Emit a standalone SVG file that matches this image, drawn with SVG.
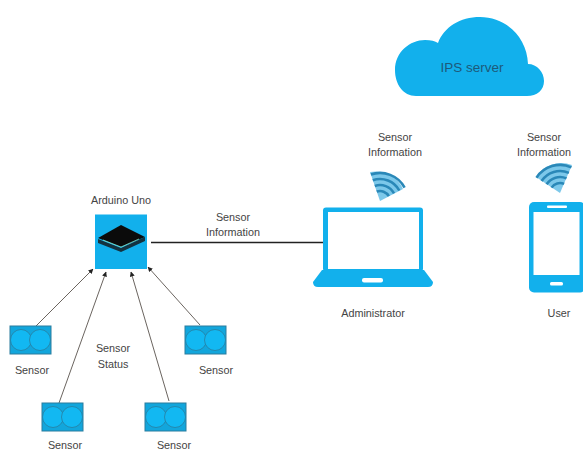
<svg xmlns="http://www.w3.org/2000/svg" width="583" height="450" viewBox="0 0 583 450">
<style>
text{font-family:"Liberation Sans",Arial,sans-serif;font-size:10.800px;fill:#444;text-anchor:middle}
.b{fill:#12b0ec}
.w{fill:#fff}
.c{fill:none;stroke:#6b6560;stroke-width:1}
.box{fill:#12a6dc;stroke:#2a7d9e;stroke-width:1}
.ci{fill:#12b8f2;stroke:#2a7d9e;stroke-width:.8}
.arc{fill:none;stroke:#2a88b8;stroke-width:2.600}
.fan{fill:#7cc8ea}
</style>
<defs>
<marker id="ah" markerWidth="5" markerHeight="5" refX="4.500" refY="2.500" orient="auto" markerUnits="userSpaceOnUse"><path d="M0 0L5 2.500L0 5z" fill="#222"/></marker>
<g id="sen"><rect class="box" x="0" y="0" width="41" height="28"/><circle class="ci" cx="11" cy="14" r="10.500"/><circle class="ci" cx="30" cy="14" r="10.500"/></g>
</defs>
<g id="connectors">
<path class="c" d="M36 326L93 269" marker-end="url(#ah)"/>
<path class="c" d="M59 403L106 272" marker-end="url(#ah)"/>
<path class="c" d="M169 401L131 272" marker-end="url(#ah)"/>
<path class="c" d="M200 325L148 267" marker-end="url(#ah)"/>
<path d="M151 242.500H323" fill="none" stroke="#222" stroke-width="1.300"/>
</g>
<g id="cloud"><path class="b" d="M416 96C403 96 395 84 395 70C395 52 410 40 425 40C431 40 435 41 438 43C444 27 460 17 480 17C505 17 527 36 528 64C537 64 544 72 544 81C544 90 537 96 527 96Z"/><text x="472" y="72" style="font-size:13.500px;fill:#1d5a7a">IPS server</text></g>
<g id="arduino"><rect class="b" x="95" y="214.500" width="52" height="54.500"/><path d="M98 239V243L121 252L145 241V237L121 248Z" fill="#14323f"/><path d="M121 225L145 237L121 247L98 238Z" fill="#0b0b0b"/><path d="M103 240L121 247L139 239" fill="none" stroke="#9fd" stroke-width=".7"/><text x="121" y="204">Arduino Uno</text></g>
<g id="sensor1"><use href="#sen" x="10" y="326"/><text x="32" y="374">Sensor</text></g>
<g id="sensor2"><use href="#sen" x="42" y="403"/><text x="65" y="449">Sensor</text></g>
<g id="sensor3"><use href="#sen" x="145" y="403"/><text x="174" y="449">Sensor</text></g>
<g id="sensor4"><use href="#sen" x="185" y="326"/><text x="216" y="374">Sensor</text></g>
<text x="113" y="352">Sensor</text><text x="113" y="368">Status</text>
<text x="233" y="221">Sensor</text><text x="233" y="236">Information</text>
<g id="laptop"><rect class="b" x="323" y="207.500" width="100" height="64" rx="3"/><rect class="w" x="328" y="212" width="91" height="57"/><path class="b" d="M322 270H424L433 282Q433 287 428 287H318Q313 287 313 282Z"/><rect class="w" x="362" y="278" width="21" height="4.500" rx="2"/><text x="373" y="317">Administrator</text></g>
<g id="wifi1"><path class="fan" d="M380 201L370 172A30 30 0 0 1 403 189Z"/><path class="arc" d="M370.900 174.500A28 28 0 0 1 404.600 187.600M372.800 180.200A22 22 0 0 1 399.300 190.500M374.800 185.900A16 16 0 0 1 394 193.300M376.700 191.600A10 10 0 0 1 388.800 196.200"/><text x="395" y="141">Sensor</text><text x="395" y="156">Information</text></g>
<g id="phone"><rect class="b" x="529" y="202" width="56" height="90.500" rx="5"/><rect class="w" x="533.500" y="212" width="46" height="63"/><rect class="w" x="547" y="205.500" width="20" height="2.500" rx="1"/><rect class="w" x="550" y="282" width="13" height="3.500" rx="1.500"/><text x="559" y="317">User</text></g>
<g id="wifi2"><path class="fan" d="M560 193L536 177A30 30 0 0 1 572 165Z"/><path class="arc" d="M536.500 177.700A28 28 0 0 1 571.400 167.400M541.600 181A22 22 0 0 1 568.900 172.900M546.600 184.300A16 16 0 0 1 566.500 178.400M551.600 187.600A10 10 0 0 1 564.100 183.900"/><text x="544" y="141">Sensor</text><text x="544" y="156">Information</text></g>
</svg>
